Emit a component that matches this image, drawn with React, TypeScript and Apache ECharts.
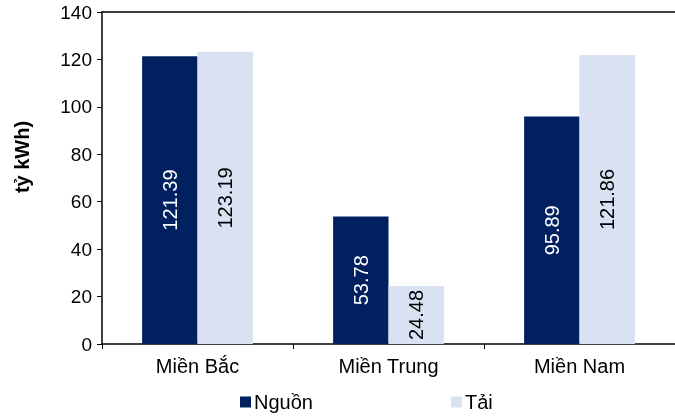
import React, { useEffect, useRef } from "react";
import * as echarts from "echarts";

const categories = ["Miền Bắc", "Miền Trung", "Miền Nam"];
const nguonValues = [121.39, 53.78, 95.89];
const taiValues = [123.19, 24.48, 121.86];
const seriesNames = ["Nguồn", "Tải"];
const yAxisName = "tỷ kWh)";

const FONT = "'Liberation Sans', Arial, sans-serif";

export default function App() {
  const ref = useRef<HTMLDivElement>(null);
  useEffect(() => {
    if (!ref.current) return;
    const chart = echarts.init(ref.current, undefined, { renderer: "svg" });
    const labelBase = {
      show: true,
      position: "inside",
      rotate: 90,
      fontFamily: FONT,
      fontSize: 20,
      formatter: (p: any) => p.value.toFixed(2),
    };
    chart.setOption({
      animation: false,
      textStyle: { fontFamily: FONT },
      grid: { left: 102, right: -2, top: 12, bottom: 72, containLabel: false },
      legend: {
        data: seriesNames,
        left: 240,
        top: 391,
        padding: 0,
        itemWidth: 11,
        itemHeight: 11,
        itemGap: 138,
        icon: "rect",
        textStyle: {
          fontFamily: FONT,
          fontSize: 20,
          lineHeight: 22,
          color: "#000",
          padding: [0, 0, 0, -2],
        },
      },
      xAxis: [
        {
          type: "category",
          data: categories,
          axisLine: { lineStyle: { color: "#000", width: 1.5 } },
          axisTick: { show: true, length: 5, alignWithLabel: false, lineStyle: { color: "#000", width: 1 } },
          axisLabel: { color: "#000", fontSize: 20, fontFamily: FONT, margin: 12 },
        },
        {
          type: "category",
          position: "top",
          data: categories,
          axisLine: { lineStyle: { color: "#000", width: 1.5 } },
          axisTick: { show: false },
          axisLabel: { show: false },
        },
      ],
      yAxis: {
        type: "value",
        min: 0,
        max: 140,
        interval: 20,
        axisLine: { show: true, lineStyle: { color: "#000", width: 1.5 } },
        axisTick: { show: true, length: 5, lineStyle: { color: "#000", width: 1 } },
        splitLine: { show: false },
        axisLabel: { color: "#000", fontSize: 19, fontFamily: FONT, margin: 10 },
      },
      graphic: [
        {
          type: "text",
          x: 22,
          y: 157,
          rotation: Math.PI / 2,
          style: {
            text: yAxisName,
            fontFamily: FONT,
            fontSize: 20,
            fontWeight: "bold",
            fill: "#000",
            align: "center",
            verticalAlign: "middle",
          },
        },
      ],
      series: [
        {
          name: seriesNames[0],
          type: "bar",
          data: nguonValues,
          barGap: "0%",
          barCategoryGap: "42%",
          itemStyle: { color: "#002060" },
          label: { ...labelBase, color: "#fff" },
        },
        {
          name: seriesNames[1],
          type: "bar",
          data: taiValues,
          itemStyle: { color: "#d9e1f2" },
          label: { ...labelBase, color: "#000" },
        },
      ],
    });
    return () => chart.dispose();
  }, []);
  return (
    <div
      ref={ref}
      style={{ position: "fixed", left: 0, top: 0, width: 675, height: 416 }}
    />
  );
}
